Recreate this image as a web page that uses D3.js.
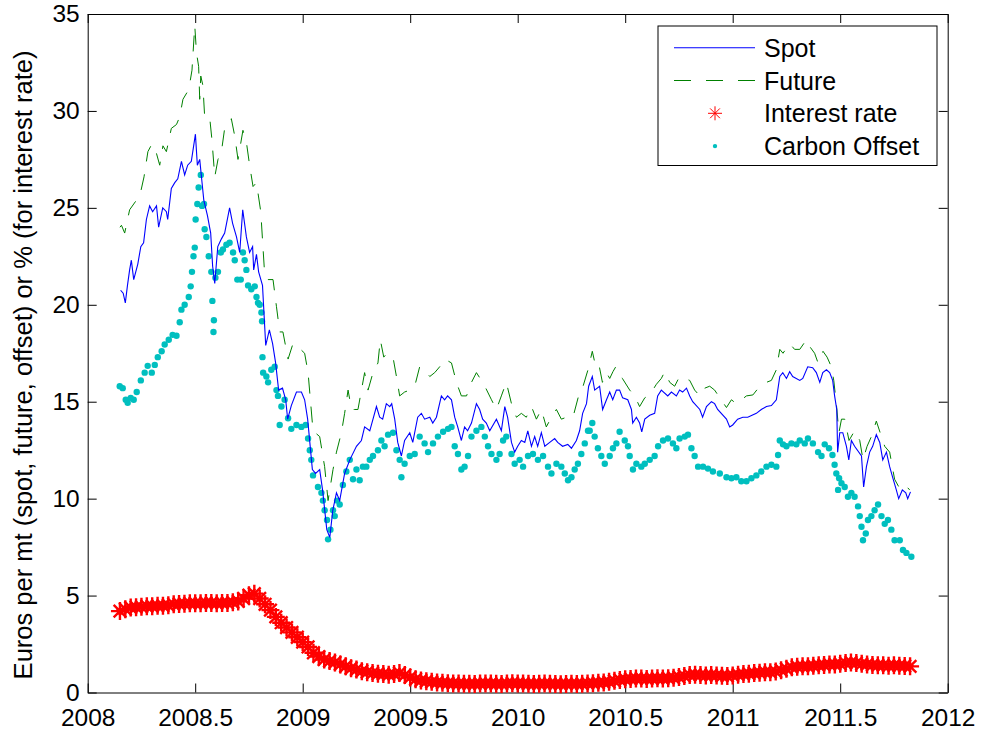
<!DOCTYPE html>
<html>
<head>
<meta charset="utf-8">
<script src="https://cdn.jsdelivr.net/npm/d3@7"></script>
<style>
    body { margin: 0; background: #fff; }
    text { font-family: "Liberation Sans", Arial, Helvetica, sans-serif; fill: #000; }
</style>
</head>
<body>
<svg id="chart"></svg>
<script>
// [year, euros per mt]
const spot = [[2008.153,20.75],[2008.165,20.6],[2008.175,20.1],[2008.185,21.0],[2008.195,21.8],[2008.203,22.3],[2008.214,21.3],[2008.233,22.1],[2008.247,23.0],[2008.260,23.2],[2008.273,24.4],[2008.288,25.1],[2008.302,24.8],[2008.320,25.1],[2008.330,24.0],[2008.349,25.0],[2008.366,24.8],[2008.372,24.4],[2008.389,26.0],[2008.405,26.3],[2008.419,26.5],[2008.436,27.4],[2008.451,26.7],[2008.465,27.2],[2008.482,27.4],[2008.501,28.8],[2008.510,27.2],[2008.521,27.5],[2008.530,26.5],[2008.540,25.4],[2008.557,24.6],[2008.572,23.7],[2008.581,22.0],[2008.591,21.1],[2008.605,23.0],[2008.622,23.4],[2008.637,23.7],[2008.660,25.0],[2008.674,24.2],[2008.692,23.5],[2008.707,22.7],[2008.721,24.9],[2008.738,23.5],[2008.753,22.7],[2008.767,23.0],[2008.772,21.8],[2008.785,22.6],[2008.795,21.7],[2008.813,21.0],[2008.828,17.9],[2008.845,18.7],[2008.860,18.0],[2008.874,17.0],[2008.888,15.6],[2008.906,15.7],[2008.921,15.1],[2008.930,14.1],[2008.947,14.8],[2008.971,15.5],[2008.994,15.5],[2009.009,15.1],[2009.023,14.1],[2009.045,11.5],[2009.060,11.3],[2009.079,11.5],[2009.093,10.4],[2009.112,8.4],[2009.126,8.0],[2009.140,9.4],[2009.157,10.3],[2009.172,9.9],[2009.195,11.3],[2009.219,12.0],[2009.250,12.7],[2009.273,13.0],[2009.288,13.7],[2009.312,13.5],[2009.343,14.75],[2009.358,14.2],[2009.372,14.1],[2009.389,14.9],[2009.405,14.75],[2009.414,14.9],[2009.428,14.1],[2009.442,12.9],[2009.459,12.2],[2009.474,13.0],[2009.498,13.4],[2009.512,12.9],[2009.535,14.2],[2009.552,14.4],[2009.567,14.1],[2009.591,14.2],[2009.605,13.9],[2009.622,14.2],[2009.645,15.3],[2009.660,15.1],[2009.674,15.3],[2009.692,15.1],[2009.707,14.2],[2009.721,13.7],[2009.738,13.0],[2009.753,13.7],[2009.767,13.5],[2009.785,13.9],[2009.808,14.9],[2009.823,14.6],[2009.837,14.1],[2009.854,13.9],[2009.870,13.5],[2009.901,14.1],[2009.924,13.5],[2009.940,14.75],[2009.953,14.2],[2009.971,12.9],[2009.986,12.4],[2010.000,12.7],[2010.017,13.0],[2010.033,12.9],[2010.047,13.5],[2010.064,12.7],[2010.079,13.2],[2010.093,12.7],[2010.110,13.4],[2010.126,12.7],[2010.149,12.9],[2010.172,13.1],[2010.186,12.9],[2010.209,12.7],[2010.233,12.8],[2010.250,12.6],[2010.273,13.0],[2010.288,13.5],[2010.302,14.4],[2010.320,14.9],[2010.330,15.8],[2010.347,16.3],[2010.358,15.6],[2010.381,15.8],[2010.395,14.6],[2010.413,15.1],[2010.428,15.5],[2010.442,15.1],[2010.459,15.6],[2010.474,15.6],[2010.488,15.2],[2010.512,15.1],[2010.529,14.6],[2010.535,13.9],[2010.552,14.2],[2010.567,13.9],[2010.577,13.45],[2010.591,14.1],[2010.614,14.3],[2010.637,14.4],[2010.651,15.3],[2010.668,15.6],[2010.698,15.3],[2010.715,15.5],[2010.738,15.3],[2010.753,15.6],[2010.767,15.5],[2010.785,15.7],[2010.800,15.3],[2010.814,15.0],[2010.847,14.6],[2010.860,14.2],[2010.878,14.75],[2010.901,15.0],[2010.916,14.9],[2010.930,14.6],[2010.971,14.1],[2010.986,13.7],[2011.000,13.8],[2011.023,14.1],[2011.047,14.2],[2011.070,14.2],[2011.110,14.4],[2011.133,14.6],[2011.157,14.75],[2011.180,14.8],[2011.203,15.1],[2011.219,16.3],[2011.233,16.5],[2011.250,16.2],[2011.265,16.55],[2011.279,16.3],[2011.312,16.1],[2011.326,16.2],[2011.349,16.8],[2011.372,16.75],[2011.389,16.5],[2011.405,16.0],[2011.419,16.5],[2011.436,16.65],[2011.451,16.5],[2011.465,16.1],[2011.474,15.3],[2011.484,14.6],[2011.488,12.4],[2011.498,13.4],[2011.512,13.4],[2011.529,12.7],[2011.540,12.0],[2011.552,13.0],[2011.567,12.7],[2011.599,12.2],[2011.609,10.6],[2011.622,11.65],[2011.637,12.4],[2011.651,12.7],[2011.668,13.3],[2011.684,12.9],[2011.698,12.0],[2011.715,12.4],[2011.730,11.65],[2011.744,11.1],[2011.761,10.45],[2011.772,10.0],[2011.789,10.45],[2011.805,10.3],[2011.814,10.0],[2011.827,10.35]];

const future = [[2008.150,24.0],[2008.157,24.1],[2008.172,23.7],[2008.195,24.9],[2008.227,25.4],[2008.242,25.6],[2008.262,26.6],[2008.280,27.9],[2008.299,28.3],[2008.320,27.8],[2008.335,27.2],[2008.350,28.2],[2008.366,27.9],[2008.389,29.1],[2008.413,29.3],[2008.428,29.7],[2008.443,30.6],[2008.470,31.1],[2008.485,32.1],[2008.498,34.4],[2008.506,33.0],[2008.516,32.3],[2008.521,30.6],[2008.526,31.8],[2008.536,31.3],[2008.544,29.7],[2008.567,29.7],[2008.578,28.5],[2008.591,26.6],[2008.606,27.5],[2008.622,27.9],[2008.637,29.1],[2008.668,29.6],[2008.684,28.7],[2008.699,27.5],[2008.722,29.0],[2008.738,28.4],[2008.753,27.2],[2008.769,26.1],[2008.785,26.3],[2008.805,24.8],[2008.815,23.0],[2008.823,21.6],[2008.839,21.3],[2008.862,21.3],[2008.878,19.9],[2008.893,18.6],[2008.908,18.6],[2008.932,17.2],[2008.955,18.0],[2008.981,17.8],[2009.009,17.5],[2009.025,16.5],[2009.048,13.5],[2009.079,13.2],[2009.102,11.65],[2009.118,9.9],[2009.141,11.5],[2009.157,12.4],[2009.180,13.4],[2009.195,14.4],[2009.211,15.6],[2009.227,14.6],[2009.242,14.6],[2009.257,14.6],[2009.288,16.5],[2009.304,15.6],[2009.327,16.5],[2009.350,17.0],[2009.361,18.2],[2009.377,17.3],[2009.392,17.5],[2009.420,17.3],[2009.436,16.3],[2009.451,15.3],[2009.474,15.5],[2009.498,15.6],[2009.521,15.8],[2009.544,16.8],[2009.567,16.65],[2009.591,16.3],[2009.614,16.5],[2009.637,16.8],[2009.660,17.2],[2009.692,17.0],[2009.715,16.0],[2009.738,15.3],[2009.762,15.3],[2009.785,16.0],[2009.808,16.5],[2009.831,16.1],[2009.847,15.8],[2009.878,15.1],[2009.901,14.6],[2009.924,15.3],[2009.947,16.0],[2009.971,14.9],[2009.994,14.2],[2010.017,14.4],[2010.040,14.2],[2010.064,14.75],[2010.087,14.1],[2010.110,14.6],[2010.133,13.7],[2010.157,14.2],[2010.180,14.6],[2010.203,14.1],[2010.227,14.2],[2010.257,14.2],[2010.288,15.5],[2010.304,15.8],[2010.327,16.65],[2010.347,17.6],[2010.363,16.8],[2010.378,16.9],[2010.394,16.0],[2010.413,16.5],[2010.428,16.2],[2010.443,16.55],[2010.456,16.8],[2010.487,16.2],[2010.521,15.6],[2010.544,15.3],[2010.567,14.75],[2010.591,15.2],[2010.614,15.35],[2010.645,15.9],[2010.668,16.2],[2010.684,16.55],[2010.707,16.0],[2010.730,15.8],[2010.753,16.3],[2010.777,16.2],[2010.800,16.1],[2010.823,15.6],[2010.847,15.3],[2010.870,15.7],[2010.893,15.8],[2010.916,15.6],[2010.940,15.2],[2010.971,14.7],[2010.994,15.1],[2011.017,14.9],[2011.064,15.3],[2011.094,15.35],[2011.126,15.8],[2011.157,16.0],[2011.180,16.1],[2011.203,16.65],[2011.219,17.7],[2011.234,17.5],[2011.265,18.0],[2011.288,17.7],[2011.312,17.7],[2011.343,18.2],[2011.358,17.85],[2011.381,17.5],[2011.397,17.0],[2011.420,17.6],[2011.439,17.3],[2011.459,16.8],[2011.470,16.1],[2011.482,14.9],[2011.494,13.4],[2011.506,14.1],[2011.521,14.1],[2011.541,13.0],[2011.567,13.5],[2011.591,13.0],[2011.606,12.0],[2011.625,12.7],[2011.645,13.2],[2011.668,14.0],[2011.692,13.2],[2011.707,12.7],[2011.730,12.4],[2011.753,11.0],[2011.773,10.6],[2011.792,10.8],[2011.811,10.6],[2011.823,10.45]];

// [year, percent]
const interest = [[2008.150,4.20],[2008.175,4.30],[2008.200,4.38],[2008.225,4.40],[2008.250,4.42],[2008.275,4.45],[2008.300,4.45],[2008.325,4.47],[2008.350,4.48],[2008.375,4.50],[2008.400,4.55],[2008.425,4.57],[2008.450,4.58],[2008.475,4.60],[2008.500,4.60],[2008.525,4.60],[2008.550,4.62],[2008.575,4.62],[2008.600,4.60],[2008.625,4.62],[2008.650,4.62],[2008.675,4.65],[2008.700,4.70],[2008.725,4.85],[2008.750,5.02],[2008.775,5.10],[2008.800,4.85],[2008.825,4.55],[2008.850,4.25],[2008.875,3.90],[2008.900,3.60],[2008.925,3.35],[2008.950,3.10],[2008.975,2.85],[2009.000,2.60],[2009.025,2.35],[2009.050,2.05],[2009.075,1.85],[2009.100,1.70],[2009.125,1.62],[2009.150,1.55],[2009.175,1.45],[2009.200,1.35],[2009.225,1.25],[2009.250,1.18],[2009.275,1.10],[2009.300,1.05],[2009.325,1.00],[2009.350,0.97],[2009.375,0.95],[2009.400,0.92],[2009.425,0.95],[2009.450,1.00],[2009.475,0.90],[2009.500,0.78],[2009.525,0.68],[2009.550,0.62],[2009.575,0.58],[2009.600,0.55],[2009.625,0.52],[2009.650,0.50],[2009.675,0.48],[2009.700,0.47],[2009.725,0.46],[2009.750,0.45],[2009.775,0.45],[2009.800,0.44],[2009.825,0.46],[2009.850,0.47],[2009.875,0.46],[2009.900,0.45],[2009.925,0.44],[2009.950,0.46],[2009.975,0.48],[2010.000,0.47],[2010.025,0.46],[2010.050,0.45],[2010.075,0.44],[2010.100,0.45],[2010.125,0.46],[2010.150,0.45],[2010.175,0.44],[2010.200,0.43],[2010.225,0.44],[2010.250,0.45],[2010.275,0.44],[2010.300,0.45],[2010.325,0.47],[2010.350,0.48],[2010.375,0.50],[2010.400,0.52],[2010.425,0.55],[2010.450,0.60],[2010.475,0.65],[2010.500,0.68],[2010.525,0.70],[2010.550,0.72],[2010.575,0.72],[2010.600,0.70],[2010.625,0.72],[2010.650,0.73],[2010.675,0.72],[2010.700,0.74],[2010.725,0.76],[2010.750,0.80],[2010.775,0.85],[2010.800,0.90],[2010.825,0.92],[2010.850,0.90],[2010.875,0.88],[2010.900,0.90],[2010.925,0.88],[2010.950,0.86],[2010.975,0.85],[2011.000,0.88],[2011.025,0.92],[2011.050,0.95],[2011.075,0.97],[2011.100,1.00],[2011.125,1.02],[2011.150,1.05],[2011.175,1.05],[2011.200,1.08],[2011.225,1.15],[2011.250,1.22],[2011.275,1.30],[2011.300,1.33],[2011.325,1.35],[2011.350,1.35],[2011.375,1.38],[2011.400,1.40],[2011.425,1.42],[2011.450,1.45],[2011.475,1.45],[2011.500,1.48],[2011.525,1.52],[2011.550,1.55],[2011.575,1.52],[2011.600,1.48],[2011.625,1.45],[2011.650,1.42],[2011.675,1.40],[2011.700,1.40],[2011.725,1.38],[2011.750,1.40],[2011.775,1.38],[2011.800,1.37],[2011.825,1.35]];

const offset = [[2008.149,15.8],[2008.163,15.7],[2008.177,15.1],[2008.186,14.95],[2008.200,15.2],[2008.214,15.1],[2008.228,15.5],[2008.247,16.1],[2008.265,16.5],[2008.279,16.85],[2008.298,16.5],[2008.312,16.9],[2008.326,17.3],[2008.344,17.6],[2008.358,17.95],[2008.377,18.2],[2008.395,18.45],[2008.413,18.4],[2008.428,19.1],[2008.436,19.75],[2008.451,20.0],[2008.470,20.4],[2008.479,20.95],[2008.485,21.7],[2008.492,22.5],[2008.498,22.95],[2008.502,24.4],[2008.510,25.2],[2008.516,26.05],[2008.526,26.7],[2008.532,25.1],[2008.541,25.2],[2008.544,23.9],[2008.552,23.5],[2008.563,22.5],[2008.575,21.7],[2008.580,20.2],[2008.585,18.6],[2008.587,19.2],[2008.594,21.4],[2008.606,21.7],[2008.619,22.7],[2008.629,22.85],[2008.645,23.1],[2008.660,23.2],[2008.676,22.7],[2008.684,22.3],[2008.696,21.3],[2008.712,21.3],[2008.722,22.7],[2008.730,22.3],[2008.738,21.8],[2008.746,21.0],[2008.761,20.8],[2008.777,20.95],[2008.785,20.4],[2008.792,20.1],[2008.800,20.0],[2008.808,19.6],[2008.811,19.15],[2008.813,17.3],[2008.816,16.5],[2008.831,16.3],[2008.839,16.0],[2008.854,16.65],[2008.870,16.8],[2008.878,15.6],[2008.885,15.3],[2008.893,13.8],[2008.901,14.75],[2008.916,15.1],[2008.932,14.15],[2008.947,13.6],[2008.971,13.8],[2008.994,13.7],[2009.014,13.8],[2009.025,13.1],[2009.033,12.5],[2009.040,12.0],[2009.048,11.2],[2009.071,10.6],[2009.087,10.3],[2009.094,9.9],[2009.102,9.4],[2009.113,8.9],[2009.118,7.9],[2009.129,8.4],[2009.141,9.4],[2009.149,9.1],[2009.160,9.9],[2009.172,9.7],[2009.187,10.7],[2009.203,11.4],[2009.219,12.0],[2009.234,11.0],[2009.250,11.5],[2009.265,10.95],[2009.280,11.65],[2009.296,11.65],[2009.312,12.0],[2009.327,12.2],[2009.350,12.5],[2009.366,13.0],[2009.381,12.7],[2009.397,13.3],[2009.420,13.4],[2009.436,12.5],[2009.451,12.0],[2009.459,11.1],[2009.474,11.8],[2009.498,12.2],[2009.521,12.3],[2009.544,13.2],[2009.567,12.85],[2009.583,12.4],[2009.606,12.85],[2009.629,13.2],[2009.653,13.45],[2009.676,13.6],[2009.692,13.7],[2009.707,12.7],[2009.722,12.3],[2009.738,11.5],[2009.753,11.65],[2009.769,12.2],[2009.785,13.2],[2009.808,13.5],[2009.831,13.7],[2009.847,13.2],[2009.862,12.7],[2009.878,12.3],[2009.901,12.0],[2009.916,12.3],[2009.932,13.0],[2009.947,13.2],[2009.971,12.3],[2009.986,11.8],[2010.009,12.0],[2010.025,11.65],[2010.048,12.2],[2010.071,12.3],[2010.094,12.0],[2010.118,12.2],[2010.141,11.65],[2010.157,11.3],[2010.180,11.8],[2010.203,11.65],[2010.219,11.3],[2010.234,10.95],[2010.250,11.1],[2010.265,11.5],[2010.280,11.8],[2010.296,12.3],[2010.312,12.85],[2010.327,13.5],[2010.335,13.5],[2010.347,13.9],[2010.358,13.2],[2010.373,12.6],[2010.389,12.2],[2010.405,11.8],[2010.428,12.2],[2010.443,12.6],[2010.459,12.85],[2010.474,13.45],[2010.498,13.0],[2010.513,12.7],[2010.521,12.2],[2010.536,11.5],[2010.552,11.8],[2010.575,11.65],[2010.591,11.8],[2010.614,12.0],[2010.637,12.2],[2010.653,12.7],[2010.676,13.0],[2010.699,13.1],[2010.722,12.85],[2010.738,12.6],[2010.753,13.1],[2010.777,13.2],[2010.792,13.3],[2010.808,12.6],[2010.823,12.2],[2010.839,11.65],[2010.862,11.65],[2010.885,11.55],[2010.908,11.4],[2010.940,11.3],[2010.971,11.1],[2010.994,11.05],[2011.017,11.1],[2011.040,10.9],[2011.064,10.9],[2011.087,11.05],[2011.110,11.2],[2011.133,11.4],[2011.157,11.65],[2011.180,11.75],[2011.203,11.65],[2011.211,12.25],[2011.219,13.0],[2011.234,12.8],[2011.250,12.7],[2011.273,12.85],[2011.296,12.8],[2011.312,13.0],[2011.335,12.85],[2011.350,13.1],[2011.373,12.85],[2011.397,12.4],[2011.413,12.2],[2011.428,12.8],[2011.448,12.6],[2011.464,12.25],[2011.474,11.75],[2011.482,11.3],[2011.490,10.45],[2011.495,11.05],[2011.506,10.8],[2011.521,10.6],[2011.536,10.1],[2011.552,10.3],[2011.567,10.1],[2011.583,9.6],[2011.591,9.1],[2011.599,8.55],[2011.606,7.85],[2011.619,8.2],[2011.629,8.9],[2011.645,9.1],[2011.660,9.4],[2011.676,9.7],[2011.692,9.1],[2011.707,8.7],[2011.722,8.9],[2011.738,8.4],[2011.753,7.85],[2011.777,7.85],[2011.792,7.35],[2011.808,7.2],[2011.831,7.0]];

const xTicks = [2008, 2008.5, 2009, 2009.5, 2010, 2010.5, 2011, 2011.5, 2012];
const yTicks = [0, 5, 10, 15, 20, 25, 30, 35];
const legendNames = ["Spot", "Future", "Interest rate", "Carbon Offset"];
const yLabel = "Euros per mt (spot, future, offset) or % (for interest rate)";

const W = 984, H = 732;
const margin = {top: 14, right: 36.3, bottom: 39.5, left: 87.7};
const width = W - margin.left - margin.right;
const height = H - margin.top - margin.bottom;

const BLUE = "#0000ff", GREEN = "#008000", RED = "#ff0000", CYAN = "#00bfbf";
const asterisk = s => `M0,${-s}V${s}M${-s},0H${s}M${-s * 0.7},${-s * 0.7}L${s * 0.7},${s * 0.7}M${-s * 0.7},${s * 0.7}L${s * 0.7},${-s * 0.7}`; // matlab style '*'

const svg = d3.select("#chart").attr("width", W).attr("height", H);
const g = svg.append("g").attr("transform", `translate(${margin.left},${margin.top})`);

const x = d3.scaleLinear().domain([2008, 2012]).range([0, width]);
const y = d3.scaleLinear().domain([0, 35]).range([height, 0]);

// axes (ticks point inward on all four sides)
const fmt = d => String(d);
g.append("g").attr("class", "axis")
    .attr("transform", `translate(0,${height})`)
    .call(d3.axisBottom(x).tickValues(xTicks).tickFormat(fmt).tickSizeInner(-9).tickSizeOuter(0).tickPadding(16));
g.append("g").attr("class", "axis")
    .call(d3.axisTop(x).tickValues(xTicks).tickFormat("").tickSizeInner(-9).tickSizeOuter(0));
g.append("g").attr("class", "axis")
    .call(d3.axisLeft(y).tickValues(yTicks).tickFormat(fmt).tickSizeInner(-9).tickSizeOuter(0).tickPadding(8));
g.append("g").attr("class", "axis")
    .attr("transform", `translate(${width},0)`)
    .call(d3.axisRight(y).tickValues(yTicks).tickFormat("").tickSizeInner(-9).tickSizeOuter(0));

g.selectAll(".axis path, .axis line").attr("stroke", "#000").attr("stroke-width", 1);
g.selectAll(".axis text").attr("font-size", 24.5).attr("font-family", "Liberation Sans, Arial, sans-serif").attr("fill", "#000");

svg.append("text")
    .attr("transform", `translate(32,365) rotate(-90)`)
    .attr("text-anchor", "middle")
    .attr("font-size", 25.5)
    .text(yLabel);

const line = d3.line().x(d => x(d[0])).y(d => y(d[1]));

// interest rate asterisks, dense enough to read as a band
g.append("g").selectAll("path")
    .data(interest)
    .join("path")
    .attr("d", asterisk(9))
    .attr("transform", d => `translate(${x(d[0])},${y(d[1])})`)
    .attr("stroke", RED)
    .attr("stroke-width", 2.4)
    .attr("fill", "none");

// carbon offset dots
g.append("g").selectAll("circle")
    .data(offset)
    .join("circle")
    .attr("cx", d => x(d[0]))
    .attr("cy", d => y(d[1]))
    .attr("r", 3.2)
    .attr("fill", CYAN);

g.append("path").datum(future)
    .attr("d", line)
    .attr("fill", "none")
    .attr("stroke", GREEN)
    .attr("stroke-width", 1)
    .attr("stroke-dasharray", "16,13");

g.append("path").datum(spot)
    .attr("d", line)
    .attr("fill", "none")
    .attr("stroke", BLUE)
    .attr("stroke-width", 1.1);

// legend
const legend = svg.append("g");
legend.append("rect")
    .attr("x", 658).attr("y", 26).attr("width", 279).attr("height", 139.5)
    .attr("fill", "#fff").attr("stroke", "#000").attr("stroke-width", 1);

const rows = legendNames.map((name, i) => ({name, i, cy: 47.7 + i * 32.8}));
const item = legend.selectAll("g.item").data(rows).join("g").attr("class", "item");
item.append("text")
    .attr("x", 764)
    .attr("y", d => d.cy + 9)
    .attr("font-size", 25)
    .text(d => d.name);

legend.append("line").attr("x1", 674).attr("x2", 755).attr("y1", rows[0].cy).attr("y2", rows[0].cy)
    .attr("stroke", BLUE).attr("stroke-width", 1.1);
legend.append("line").attr("x1", 674).attr("x2", 755).attr("y1", rows[1].cy).attr("y2", rows[1].cy)
    .attr("stroke", GREEN).attr("stroke-width", 1).attr("stroke-dasharray", "17,15");
legend.append("path").attr("d", asterisk(7))
    .attr("transform", `translate(715,${rows[2].cy})`)
    .attr("stroke", RED).attr("stroke-width", 1).attr("fill", "none");
legend.append("circle").attr("cx", 715).attr("cy", rows[3].cy).attr("r", 2.2).attr("fill", CYAN);
</script>
</body>
</html>
